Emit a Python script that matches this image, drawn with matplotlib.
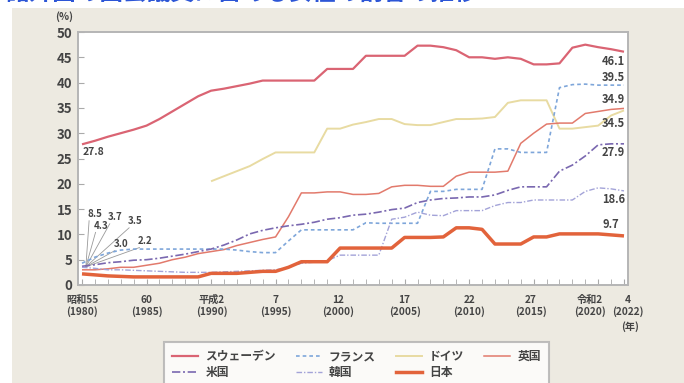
import matplotlib
matplotlib.use("Agg")
import matplotlib.pyplot as plt
import matplotlib.transforms as mtransforms
from matplotlib.lines import Line2D
from matplotlib.patches import Rectangle
import numpy as np

plt.rcParams['font.family'] = ['Noto Sans CJK JP', 'DejaVu Sans']

# ---------------- data ----------------
years = list(range(1980, 2023))
years_de = list(range(1990, 2023))

sweden = [27.8, 28.5, 29.3, 30.0, 30.7, 31.5, 32.8, 34.3, 35.8, 37.3,
          38.4, 38.8, 39.3, 39.8, 40.4, 40.4, 40.4, 40.4, 40.4, 42.7,
          42.7, 42.7, 45.3, 45.3, 45.3, 45.3, 47.3, 47.3, 47.0, 46.4,
          45.0, 45.0, 44.7, 45.0, 44.7, 43.6, 43.6, 43.8, 46.9, 47.5,
          47.0, 46.6, 46.1]
france = [4.3, 5.5, 6.3, 6.9, 7.1, 7.1, 7.1, 7.1, 7.1, 7.1,
          7.1, 7.1, 6.9, 6.6, 6.4, 6.4, 8.7, 10.9, 10.9, 10.9,
          10.9, 10.9, 12.3, 12.2, 12.2, 12.2, 12.2, 18.5, 18.5, 18.9,
          18.9, 18.9, 26.9, 26.9, 26.2, 26.2, 26.2, 39.0, 39.6, 39.7,
          39.5, 39.5, 39.5]
germany = [20.5, 21.5, 22.5, 23.5, 24.9, 26.2, 26.2, 26.2, 26.2, 30.9,
           30.9, 31.7, 32.2, 32.8, 32.8, 31.8, 31.6, 31.6, 32.2, 32.8,
           32.8, 32.9, 33.2, 36.0, 36.5, 36.5, 36.5, 30.9, 30.9, 31.2,
           31.5, 33.5, 34.5]
uk = [3.0, 3.0, 3.2, 3.5, 3.5, 3.9, 4.3, 5.0, 5.5, 6.2,
      6.6, 7.0, 7.8, 8.4, 9.0, 9.5, 13.5, 18.2, 18.2, 18.4,
      18.4, 17.9, 17.9, 18.1, 19.4, 19.7, 19.7, 19.5, 19.5, 21.5,
      22.3, 22.3, 22.3, 22.5, 28.0, 30.0, 31.8, 32.0, 32.0, 33.9,
      34.3, 34.7, 34.9]
us = [3.7, 4.0, 4.4, 4.6, 4.9, 5.0, 5.3, 5.7, 6.1, 6.6,
      7.1, 7.9, 8.9, 10.1, 10.8, 11.3, 11.7, 12.0, 12.4, 13.0,
      13.3, 13.8, 14.0, 14.4, 14.9, 15.2, 16.3, 16.8, 17.1, 17.2,
      17.4, 17.4, 17.8, 18.7, 19.4, 19.4, 19.4, 22.5, 23.7, 25.5,
      27.7, 27.9, 27.9]
korea = [3.5, 3.3, 3.0, 3.0, 2.9, 2.8, 2.7, 2.6, 2.5, 2.5,
         2.5, 2.6, 2.7, 2.8, 2.9, 3.0, 3.5, 4.3, 4.5, 4.8,
         5.9, 5.9, 5.9, 5.9, 13.0, 13.4, 14.4, 13.8, 13.7, 14.7,
         14.7, 14.7, 15.7, 16.3, 16.3, 16.8, 16.8, 16.8, 16.8, 18.5,
         19.2, 19.0, 18.6]
japan = [2.2, 2.0, 1.8, 1.7, 1.6, 1.6, 1.6, 1.6, 1.6, 1.6,
         2.3, 2.3, 2.3, 2.5, 2.7, 2.7, 3.5, 4.6, 4.6, 4.6,
         7.3, 7.3, 7.3, 7.3, 7.3, 9.4, 9.4, 9.4, 9.5, 11.3,
         11.3, 11.0, 8.1, 8.1, 8.1, 9.5, 9.5, 10.1, 10.1, 10.1,
         10.1, 9.9, 9.7]

start_labels = ['8.5', '4.3', '3.7', '3.5', '3.0', '2.2']
end_labels = ['46.1', '39.5', '34.9', '34.5', '27.9', '18.6', '9.7']

tick_years = [1980, 1985, 1990, 1995, 2000, 2005, 2010, 2015, 2020, 2022]
tick_texts = ['昭和55\n(1980)', '60\n(1985)', '平成2\n(1990)', '7\n(1995)',
              '12\n(2000)', '17\n(2005)', '22\n(2010)', '27\n(2015)',
              '令和2\n(2020)', '4\n(2022)']

legend_names = ['スウェーデン', 'フランス', 'ドイツ', '英国', '米国', '韓国', '日本']
title = '諸外国の国会議員に占める女性の割合の推移'

# ---------------- styles ----------------
styles = {
    'スウェーデン': dict(color='#da6473', lw=1.6, ls='-'),
    'フランス': dict(color='#7ea6da', lw=1.2, ls=(0, (2.2, 1.8))),
    'ドイツ': dict(color='#e8dba2', lw=1.4, ls='-'),
    '英国': dict(color='#e27a6c', lw=1.1, ls='-'),
    '米国': dict(color='#7a68b0', lw=1.2, ls=(0, (5, 1.6, 1.2, 1.6))),
    '韓国': dict(color='#a3a3d8', lw=1.0, ls=(0, (4, 1.4, 1, 1.4))),
    '日本': dict(color='#e2633b', lw=2.5, ls='-'),
}

W, H = 684, 383
fig = plt.figure(figsize=(W / 100, H / 100), dpi=100)
fig.patch.set_facecolor('#edeae1')
fig.patches.append(Rectangle((0, 1 - 8 / H), 1, 8 / H, transform=fig.transFigure,
                             facecolor='white', edgecolor='none', zorder=0))
fig.patches.append(Rectangle((0, 0), 12 / W, 1, transform=fig.transFigure,
                             facecolor='white', edgecolor='none', zorder=0))

fig.text(5 / W, 1 + 7 / H, title, fontsize=17, fontweight='bold', color='#2d56d6',
         ha='left', va='center')

ax = fig.add_axes([78 / W, 1 - 285 / H, 550 / W, 253 / H])
ax.set_facecolor('white')

series = [('スウェーデン', years, sweden), ('ドイツ', years_de, germany),
          ('英国', years, uk), ('フランス', years, france),
          ('米国', years, us), ('韓国', years, korea), ('日本', years, japan)]
for name, xs, ys in series:
    st = styles[name]
    ax.plot(xs, ys, color=st['color'], lw=st['lw'], ls=st['ls'],
            zorder=5 if name == '日本' else 3, solid_capstyle='butt')

ax.set_xlim(1979.69, 2022.31)
ax.set_ylim(0, 50)
ax.set_yticks(np.arange(0, 51, 5))
ax.set_xticks(tick_years)
ax.set_xticklabels(tick_texts, fontsize=7.3, color='#444444', linespacing=1.15)
ax.set_xticks(years, minor=True)
ax.tick_params(axis='y', direction='in', length=4, color='#aaaaaa',
               labelsize=9.5, labelcolor='#444444', pad=4)
ax.tick_params(axis='x', which='both', direction='in', length=4, color='#aaaaaa', pad=7)
for lab in ax.get_yticklabels():
    lab.set_fontweight('bold')
x_shift = [0, 0, 1, 0, -2, 0, 0, -3, -8, 4]
for lab, dx in zip(ax.get_xticklabels(), x_shift):
    lab.set_fontweight('bold')
    lab.set_transform(lab.get_transform() +
                      mtransforms.ScaledTranslation(dx / 100, 0, fig.dpi_scale_trans))
for sp in ax.spines.values():
    sp.set_color('#b5b5b5')
    sp.set_linewidth(1.4)

fig.text(64 / W, 1 - 17 / H, '(%)', fontsize=7.5, fontweight='bold', color='#444444',
         ha='center', va='center')
fig.text(630 / W, 1 - 327 / H, '(年)', fontsize=7.3, fontweight='bold', color='#444444',
         ha='center', va='center')

# end-value labels
end_y = [44.1, 41.1, 36.6, 32.0, 26.1, 16.8, 11.9]
for t, yv in zip(end_labels, end_y):
    ax.text(2020.3, yv, t, fontsize=8, fontweight='bold', color='#444444',
            ha='left', va='center', zorder=6)

# start labels
ax.text(1980.05, 26.3, '27.8', fontsize=7.5, fontweight='bold', color='#444444',
        ha='left', va='center')
start_pos = [(1981.0, 14.0), (1981.5, 11.7), (1982.6, 13.4), (1984.1, 12.6),
             (1983.0, 8.1), (1984.9, 8.7)]
for t, (xp, yp) in zip(start_labels, start_pos):
    ax.text(xp, yp, t, fontsize=7, fontweight='bold', color='#444444',
            ha='center', va='center')
    ax.plot([xp - 0.45, 1980.3], [yp - 1.3, 3.6], color='#999999', lw=0.6, zorder=2)

# legend
handles = {n: Line2D([], [], color=styles[n]['color'], lw=styles[n]['lw'],
                     ls=styles[n]['ls']) for n in legend_names}
order = ['スウェーデン', '米国', 'フランス', '韓国', 'ドイツ', '日本', '英国']
leg = fig.legend([handles[n] for n in order], order, loc='upper left',
                 bbox_to_anchor=(158 / W, 1 - 336 / H), ncol=4, fontsize=8.5,
                 frameon=True, fancybox=False, edgecolor='#b0b0b0',
                 handlelength=2.2, columnspacing=1.7, labelspacing=0.25,
                 borderpad=0.7, handletextpad=0.6)
leg.get_frame().set_linewidth(1.5)
for t in leg.get_texts():
    t.set_fontweight('bold')
    t.set_color('#444444')

fig.savefig('out.png', dpi=100, facecolor=fig.get_facecolor())
